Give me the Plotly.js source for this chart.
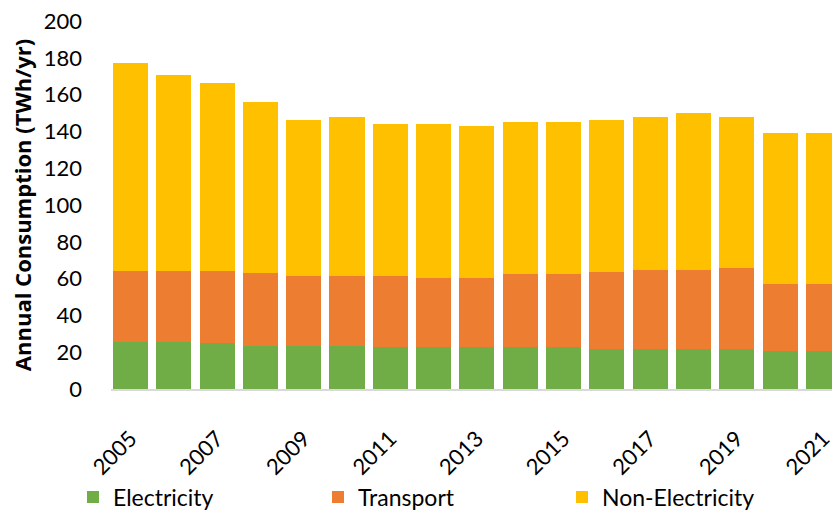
<!DOCTYPE html>
<html>
<head>
<meta charset="utf-8">
<script src="https://cdn.plot.ly/plotly-3.0.1.min.js"></script>
<style>html,body{margin:0;padding:0;background:#fff;}#chart{width:832px;height:511px;}</style>
</head>
<body>
<div id="chart"></div>
<script>
const years = ['2005','2006','2007','2008','2009','2010','2011','2012','2013','2014','2015','2016','2017','2018','2019','2020','2021'];
const electricity = [25.7, 25.5, 24.8, 23.5, 23.5, 23.5, 22.6, 22.6, 22.6, 22.6, 22.6, 21.6, 21.6, 21.6, 21.6, 20.5, 20.5];
const transport = [38.6, 38.8, 39.5, 39.7, 37.9, 37.9, 38.8, 37.9, 37.9, 39.7, 39.7, 42.0, 42.9, 42.9, 44.2, 36.7, 36.7];
const nonElectricity = [112.7, 106.2, 102.2, 92.9, 84.6, 86.6, 82.4, 83.5, 82.5, 82.7, 82.7, 82.4, 83.5, 85.5, 82.2, 81.8, 81.8];
const tickYears = ['2005','2007','2009','2011','2013','2015','2017','2019','2021'];

const font = 'Lato, "Open Sans", sans-serif';
const traces = [
  {type:'bar', name:'Electricity', x:years, y:electricity, marker:{color:'#70AD47', line:{width:0}}, legend:'legend'},
  {type:'bar', name:'Transport', x:years, y:transport, marker:{color:'#ED7D31', line:{width:0}}, legend:'legend2'},
  {type:'bar', name:'Non-Electricity', x:years, y:nonElectricity, marker:{color:'#FFC000', line:{width:0}}, legend:'legend3'}
];
function leg(xpx){
  return {orientation:'h', x:xpx/832, xanchor:'left', y:14/511, yanchor:'middle', xref:'container', yref:'container',
          bgcolor:'rgba(0,0,0,0)', font:{size:23, family:font}, itemwidth:30};
}
const layout = {
  width:832, height:511,
  margin:{l:111, r:0, t:21, b:122, autoexpand:false},
  barmode:'stack', bargap:0.19,
  paper_bgcolor:'#fff', plot_bgcolor:'#fff',
  font:{family:font, size:22, color:'#000'},
  showlegend:true,
  legend:leg(73), legend2:leg(318), legend3:leg(562),
  xaxis:{type:'category', automargin:false, range:[-0.45,16.2], tickmode:'array', tickvals:tickYears, ticktext:tickYears,
         tickangle:-45, showgrid:false, zeroline:false, showline:true, linecolor:'#d9d9d9', linewidth:2,
         ticks:'', ticklabelstandoff:26, tickfont:{size:22, family:font}},
  yaxis:{range:[0,200], automargin:false, tickmode:'linear', tick0:0, dtick:20, showgrid:false, zeroline:false, showline:false,
         ticks:'', ticklabelstandoff:28, tickfont:{size:22, family:font},
         title:{text:'<b>Annual Consumption (TWh/yr)</b>', font:{size:22, family:'"Open Sans", Lato, sans-serif'}, standoff:6}}
};
Plotly.newPlot('chart', traces, layout, {displayModeBar:false, staticPlot:true});
</script>
</body>
</html>
